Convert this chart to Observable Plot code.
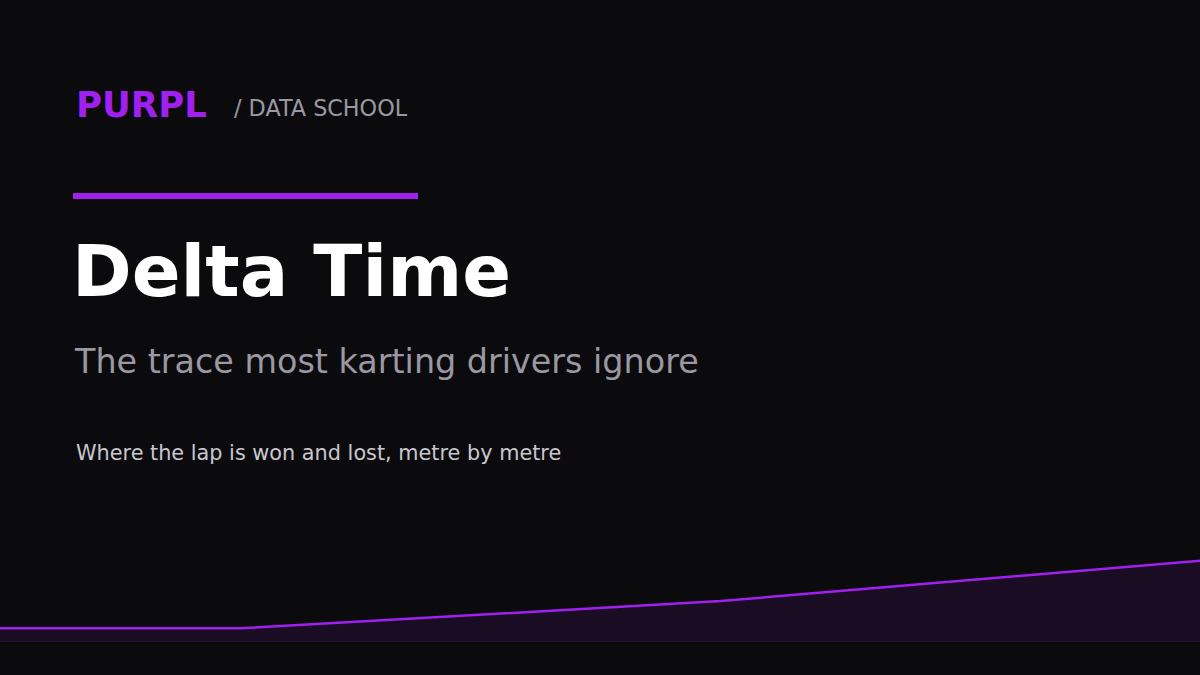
<!DOCTYPE html>
<html>
<head>
<meta charset="utf-8">
<script src="https://cdn.jsdelivr.net/npm/d3@7"></script>
<script src="https://cdn.jsdelivr.net/npm/@observablehq/plot@0.6"></script>
<style>
  html, body { margin: 0; padding: 0; }
  body { width: 1200px; height: 675px; background: #0b0b0d; position: relative; overflow: hidden; font-family: "DejaVu Sans", sans-serif; }
  .t { position: absolute; white-space: nowrap; line-height: 1; margin: 0; }
  #brand { left: 76px; top: 87px; font-size: 35.5px; font-weight: bold; color: #a020f0; }
  #school { left: 234px; top: 97px; font-size: 22.3px; color: #9a98a2; }
  #bar { position: absolute; left: 73px; top: 193px; width: 345px; height: 6px; background: #a020f0; }
  #title { left: 72px; top: 235px; font-size: 72px; font-weight: bold; color: #ffffff; }
  #subtitle { left: 75px; top: 345px; font-size: 33.4px; color: #9a98a2; }
  #desc { left: 76px; top: 443px; font-size: 20.8px; color: #c9c7cf; }
  #chart { position: absolute; left: 0; top: 540px; }
</style>
</head>
<body>
<div class="t" id="brand">PURPL</div>
<div class="t" id="school">/ DATA SCHOOL</div>
<div id="bar"></div>
<div class="t" id="title">Delta Time</div>
<div class="t" id="subtitle">The trace most karting drivers ignore</div>
<div class="t" id="desc">Where the lap is won and lost, metre by metre</div>
<div id="chart"></div>
<script>
const distance = [0, 100, 300, 500];
const delta = [0.13, 0.13, 0.4, 0.8];
const data = distance.map((d, i) => ({distance: d, delta: delta[i]}));
const purple = "#a020f0";

const chart = Plot.plot({
  width: 1200,
  height: 135,
  marginTop: 0,
  marginRight: 0,
  marginLeft: 0,
  marginBottom: 34,
  x: {domain: [0, 500], axis: null},
  y: {domain: [0, 1], axis: null},
  style: {background: "transparent", overflow: "visible"},
  marks: [
    Plot.areaY(data, {x: "distance", y: "delta", fill: purple, fillOpacity: 0.1}),
    Plot.ruleY([0], {stroke: purple, strokeOpacity: 0.18, strokeWidth: 1}),
    Plot.lineY(data, {x: "distance", y: "delta", stroke: purple, strokeWidth: 2.5})
  ]
});
document.getElementById("chart").appendChild(chart);
</script>
</body>
</html>
